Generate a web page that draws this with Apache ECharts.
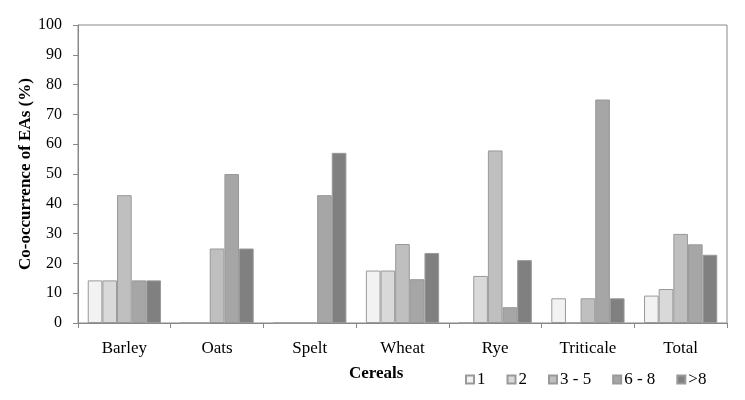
<!DOCTYPE html>
<html><head><meta charset="utf-8">
<script src="https://cdn.jsdelivr.net/npm/echarts@6/dist/echarts.min.js"></script>
<style>html,body{margin:0;padding:0;background:#fff}#c{width:745px;height:400px}</style>
</head><body><div id="c"></div>
<script>
const categories = ['Barley','Oats','Spelt','Wheat','Rye','Triticale','Total'];
const seriesNames = ['1','2','3 - 5','6 - 8','>8'];
const s1  = [14.3, 0,    0,    17.6, 0,    8.3,  9.2];
const s2  = [14.3, 0,    0,    17.6, 15.8, 0,    11.4];
const s35 = [42.9, 25,   0,    26.5, 57.9, 8.3,  29.9];
const s68 = [14.3, 50,   42.9, 14.7, 5.3,  75,   26.4];
const s8  = [14.3, 25,   57.1, 23.5, 21.1, 8.3,  22.9];
const yTicks = [0,10,20,30,40,50,60,70,80,90,100];
const colors = ['#f2f2f2','#d9d9d9','#bfbfbf','#a6a6a6','#808080'];
const values = [s1,s2,s35,s68,s8];
const font = 'Liberation Serif';

const chart = echarts.init(document.getElementById('c'));
chart.setOption({
  animation:false,
  textStyle:{fontFamily:font},
  title:{text:'Cereals', left:344, top:360, textStyle:{fontFamily:font,fontSize:17,fontWeight:'bold',color:'#000'}},
  legend:{left:460, top:366, itemWidth:8, itemHeight:8, itemGap:21,
    icon:'rect', textStyle:{fontFamily:font,fontSize:17,color:'#000',padding:[0,0,0,-2]},
    data:seriesNames},
  grid:{left:78,right:18,top:25,bottom:77,show:true,borderColor:'#888',borderWidth:1},
  xAxis:{type:'category',data:categories,
    axisLine:{lineStyle:{color:'#888'}},
    axisTick:{show:true,alignWithLabel:false,length:5,lineStyle:{color:'#888'}},
    axisLabel:{color:'#000',fontSize:17,fontFamily:font,margin:17}},
  yAxis:{type:'value',min:yTicks[0],max:yTicks[yTicks.length-1],interval:10,
    name:'Co-occurrence of EAs (%)',nameLocation:'middle',nameGap:44,nameMoveOverlap:false,
    nameTextStyle:{fontFamily:font,fontSize:17,fontWeight:'bold',color:'#000'},
    axisLine:{show:true,lineStyle:{color:'#888'}},
    axisTick:{show:true,length:5,lineStyle:{color:'#888'}},
    splitLine:{show:false},
    axisLabel:{color:'#000',fontSize:16,fontFamily:font,margin:16}},
  series: seriesNames.map((n,i)=>({
    name:n,type:'bar',data:values[i],barGap:'0%',barCategoryGap:'21%',
    itemStyle:{color:colors[i],borderColor:'#999',borderWidth:1}
  }))
});
</script></body></html>
